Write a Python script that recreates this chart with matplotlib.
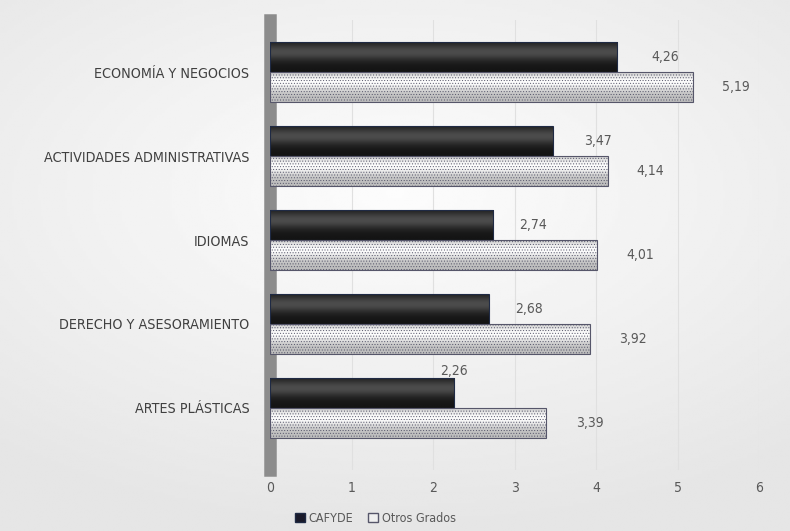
import numpy as np
import matplotlib
matplotlib.use("Agg")
import matplotlib.pyplot as plt
from matplotlib.patches import Patch

# Datos
categorias = ["ECONOMÍA Y NEGOCIOS", "ACTIVIDADES ADMINISTRATIVAS", "IDIOMAS",
              "DERECHO Y ASESORAMIENTO", "ARTES PLÁSTICAS"]
cafyde = [4.26, 3.47, 2.74, 2.68, 2.26]
otros = [5.19, 4.14, 4.01, 3.92, 3.39]
xticks = [0, 1, 2, 3, 4, 5, 6]

# desplazamiento (pixeles) de las etiquetas de CAFYDE, como en el original
desp_cafyde = [(48, 0), (45, 0), (40, 0), (40, 0), (0, 22)]

plt.rcParams['font.family'] = ['DejaVu Sans']
plt.rcParams['font.stretch'] = 'condensed'
plt.rcParams['hatch.linewidth'] = 0.4
plt.rcParams['hatch.color'] = '#b4b4bc'
gris_texto = '#595959'

fig = plt.figure(figsize=(7.9, 5.31), dpi=100)

# fondo con degradado
bg = fig.add_axes([0, 0, 1, 1], zorder=-10)
yy, xx = np.mgrid[-1:1:200j, -1:1:300j]
r = np.sqrt((xx * 0.9) ** 2 + (yy * 1.1 + 0.3) ** 2)
bg.imshow(0.99 - 0.09 * np.clip(r, 0, 1.4) / 1.4, cmap='gray', vmin=0, vmax=1,
          aspect='auto', extent=[0, 1, 0, 1])
bg.axis('off')

ax = fig.add_axes([0.342, 0.115, 0.619, 0.847])
ax.patch.set_alpha(0)

n = len(categorias)
y = np.arange(n)[::-1]
h = 0.36

b1 = ax.barh(y + h / 2, cafyde, height=h, color='none', edgecolor='#1f2a44',
             linewidth=0.8, zorder=4)
b2 = ax.barh(y - h / 2, otros, height=h, color='none', edgecolor='#56566a',
             linewidth=0.8, hatch='......', zorder=4)

# degradado tipo cilindro
t = np.linspace(0, 1, 60)
perfil = np.exp(-((t - 0.35) / 0.28) ** 2)
grad_negro = (0.08 + 0.22 * perfil)[:, None]
grad_blanco = (0.74 + 0.25 * perfil)[:, None]
for barras, grad in ((b1, grad_negro), (b2, grad_blanco)):
    for p in barras:
        x0, y0 = p.get_x(), p.get_y()
        w, hh = p.get_width(), p.get_height()
        im = ax.imshow(grad, cmap='gray', vmin=0, vmax=1, aspect='auto',
                       extent=[x0, x0 + w, y0, y0 + hh], zorder=3,
                       origin='upper')
        im.set_clip_path(p)

# etiquetas de valores
for p, v, d in zip(b1, cafyde, desp_cafyde):
    ax.annotate(f"{v:.2f}".replace('.', ','), (v, p.get_y() + p.get_height() / 2),
                xytext=d, textcoords='offset pixels', ha='center',
                va='center', fontsize=10, color=gris_texto)
for p, v in zip(b2, otros):
    ax.annotate(f"{v:.2f}".replace('.', ','), (v, p.get_y() + p.get_height() / 2),
                xytext=(43, 0), textcoords='offset pixels', ha='center',
                va='center', fontsize=10, color=gris_texto)

ax.set_xlim(0, 6)
ax.set_ylim(-0.74, 4.62)
ax.set_xticks(xticks)
ax.set_xticklabels([str(v) for v in xticks], fontsize=10, color=gris_texto)
ax.set_yticks(y)
ax.set_yticklabels(categorias, fontsize=10.3, color='#404040')
ax.tick_params(length=0)
ax.tick_params(axis='x', pad=8)
ax.tick_params(axis='y', pad=15)
ax.grid(axis='x', color='#e0e0e0', linewidth=0.8, zorder=0)
for s in ['top', 'right', 'bottom']:
    ax.spines[s].set_visible(False)
ax.spines['left'].set_color('#8c8c8c')
ax.spines['left'].set_linewidth(9)
ax.spines['left'].set_zorder(2.5)

leg = fig.legend(handles=[Patch(facecolor='#1a1a2a', edgecolor='#1f2a44'),
                          Patch(facecolor='#f0f0f0', edgecolor='#56566a')],
                 labels=['CAFYDE', 'Otros Grados'], loc='lower center',
                 bbox_to_anchor=(0.475, -0.01), ncol=2, frameon=False,
                 fontsize=9, handlelength=0.8, handleheight=0.8,
                 handletextpad=0.3, columnspacing=1.2, labelcolor=gris_texto)

fig.savefig("out.png", dpi=100)
